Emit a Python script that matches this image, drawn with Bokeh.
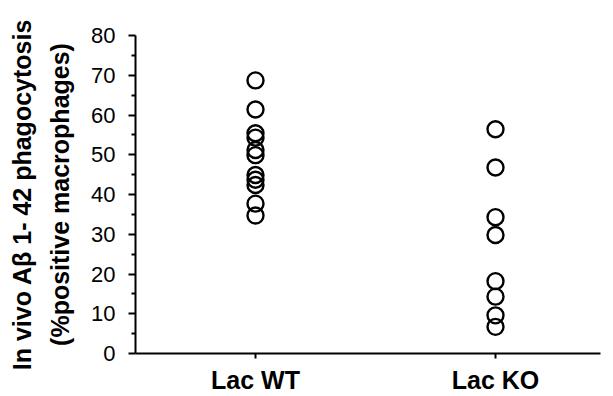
from bokeh.plotting import figure
from bokeh.models import Range1d, FixedTicker, ColumnDataSource
from bokeh.embed import file_html
from bokeh.resources import INLINE

categories = ["Lac WT", "Lac KO"]
wt_values = [68.7, 61.4, 55.4, 54.3, 51.2, 49.9, 44.9, 43.7, 42.4, 37.7, 34.7]
ko_values = [56.4, 46.8, 34.3, 29.8, 18.2, 14.3, 9.6, 6.7]
y_ticks = [0, 10, 20, 30, 40, 50, 60, 70, 80]
y_title = "In vivo A\u03b2 1- 42 phagocytosis\n(%positive macrophages)"

cat_pos = {c: 1 + 2 * i for i, c in enumerate(categories)}

xs, ys = [], []
for cat, vals in zip(categories, [wt_values, ko_values]):
    for v in vals:
        xs.append(cat_pos[cat])
        ys.append(v)
src = ColumnDataSource(dict(x=xs, y=ys))

p = figure(width=605, height=396, output_backend="svg", toolbar_location=None,
           x_range=Range1d(0, 3.875), y_range=Range1d(0, 80),
           min_border_left=135, min_border_right=5, min_border_top=35, min_border_bottom=42)
p.outline_line_color = None
p.xgrid.grid_line_color = None
p.ygrid.grid_line_color = None
p.background_fill_color = "white"
p.border_fill_color = "white"

p.scatter("x", "y", source=src, marker="circle", size=16, fill_alpha=0,
          line_color="black", line_width=2.4)

FONT = "Liberation Sans"

ya = p.yaxis[0]
ya.ticker = FixedTicker(ticks=y_ticks, minor_ticks=[v + 5 for v in y_ticks[:-1]])
ya.axis_line_width = 2
ya.axis_line_color = "black"
ya.major_tick_line_width = 2
ya.major_tick_out = 7
ya.major_tick_in = 0
ya.minor_tick_line_width = 2
ya.minor_tick_out = 4
ya.minor_tick_in = 0
ya.major_label_text_font = FONT
ya.major_label_text_font_size = "22px"
ya.major_label_text_color = "black"
ya.major_label_standoff = 13
ya.axis_label = y_title
ya.axis_label_text_font = FONT
ya.axis_label_text_font_size = "25px"
ya.axis_label_text_font_style = "bold"
ya.axis_label_text_color = "black"
ya.axis_label_standoff = 14
ya.axis_label_text_line_height = 1.35

xa = p.xaxis[0]
xa.ticker = FixedTicker(ticks=list(cat_pos.values()), minor_ticks=[])
xa.major_label_overrides = {v: k for k, v in cat_pos.items()}
xa.axis_line_width = 2
xa.axis_line_color = "black"
xa.major_tick_line_width = 2
xa.major_tick_out = 5
xa.major_tick_in = 0
xa.minor_tick_out = 0
xa.minor_tick_in = 0
xa.major_label_text_font = FONT
xa.major_label_text_font_size = "25px"
xa.major_label_text_font_style = "bold"
xa.major_label_text_color = "black"
xa.major_label_standoff = 7

open("out.html", "w").write(file_html(p, INLINE))
